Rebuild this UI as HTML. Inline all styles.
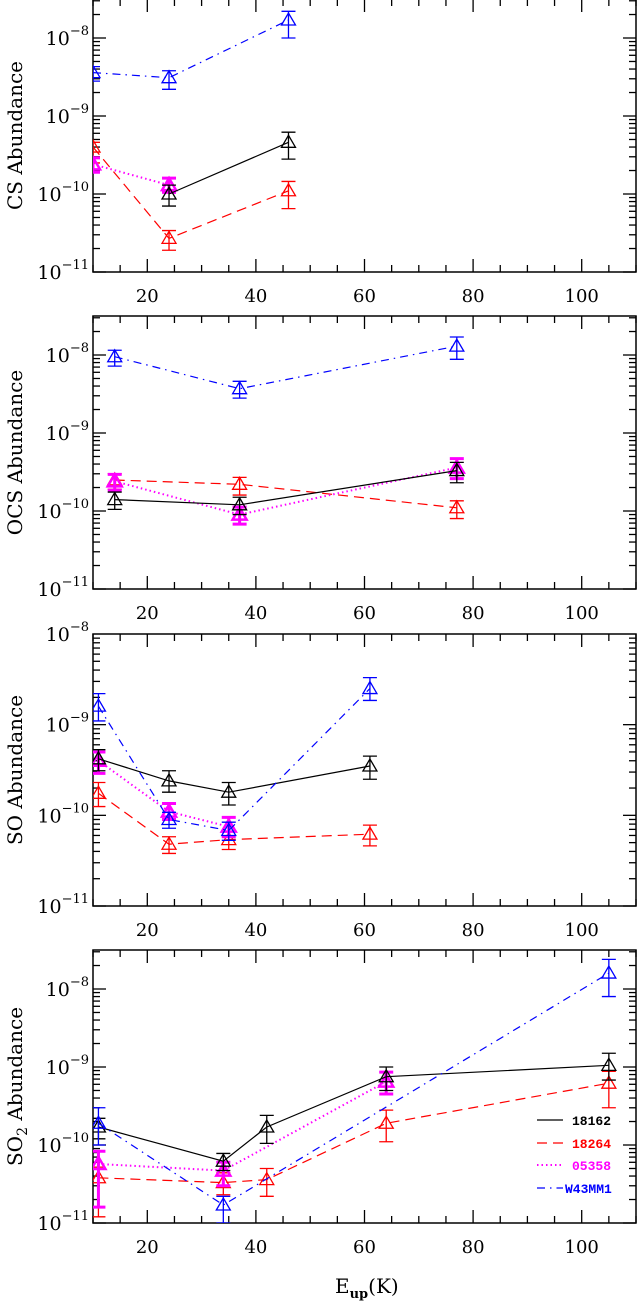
<!DOCTYPE html>
<html><head><meta charset="utf-8"><style>
html,body{margin:0;padding:0;background:#fff;}
svg{display:block;font-family:"DejaVu Serif","Liberation Serif",serif;}
</style></head><body>
<svg id="chart" width="638" height="1304" viewBox="0 0 638 1304" xmlns="http://www.w3.org/2000/svg"></svg>
<script>
// ---------- data ----------
const seriesNames = ["18162","18264","05358","W43MM1"];
const seriesColors = ["#000000","#ff0000","#ff00ff","#0000ff"];
const panelTitles = ["CS","OCS","SO","SO2"];
// CS
const csX = [[24,46],[10,24,46],[10,24],[10,24,46]];
const csV = [[1.0e-10,4.6e-10],[4.0e-10,2.7e-11,1.1e-10],[2.4e-10,1.3e-10],[3.6e-9,3.1e-9,1.7e-8]];
const csLo = [[7e-11,2.8e-10],[2.5e-10,1.9e-11,6.5e-11],[1.9e-10,1.05e-10],[2.8e-9,2.2e-9,1.0e-8]];
const csHi = [[1.3e-10,6.2e-10],[4.6e-10,3.4e-11,1.45e-10],[2.9e-10,1.6e-10],[4.3e-9,3.8e-9,2.2e-8]];
// OCS
const ocsX = [[14,37,77],[14,37,77],[14,37,77],[14,37,77]];
const ocsV = [[1.4e-10,1.2e-10,3.3e-10],[2.5e-10,2.2e-10,1.1e-10],[2.4e-10,0.9e-10,3.6e-10],[9.5e-9,3.7e-9,1.3e-8]];
const ocsLo = [[1.05e-10,0.9e-10,2.3e-10],[1.9e-10,1.6e-10,0.8e-10],[1.85e-10,0.68e-10,2.6e-10],[7.2e-9,2.8e-9,8.8e-9]];
const ocsHi = [[1.75e-10,1.5e-10,4.2e-10],[3.0e-10,2.7e-10,1.35e-10],[2.95e-10,1.12e-10,4.7e-10],[1.15e-8,4.6e-9,1.7e-8]];
// SO
const soX = [[11,24,35,61],[11,24,35,61],[11,24,35],[11,24,35,61]];
const soV = [[4.2e-10,2.4e-10,1.8e-10,3.5e-10],[1.75e-10,4.8e-11,5.4e-11,6.2e-11],[4.0e-10,1.1e-10,7.5e-11],[1.6e-9,9.0e-11,6.8e-11,2.5e-9]];
const soLo = [[3.1e-10,1.8e-10,1.3e-10,2.5e-10],[1.25e-10,3.8e-11,4.2e-11,4.6e-11],[2.9e-10,9.0e-11,5.8e-11],[1.1e-9,7.2e-11,5.3e-11,1.85e-9]];
const soHi = [[5.3e-10,3.1e-10,2.3e-10,4.5e-10],[2.3e-10,5.8e-11,6.6e-11,7.8e-11],[5.0e-10,1.35e-10,9.5e-11],[2.2e-9,1.08e-10,8.4e-11,3.3e-9]];
// SO2
const so2X = [[11,34,42,64,105],[11,34,42,64,105],[11,34,64],[11,34,105]];
const so2V = [[1.7e-10,6.2e-11,1.7e-10,7.5e-10,1.05e-9],[3.8e-11,3.3e-11,3.6e-11,1.9e-10,6.2e-10],[5.7e-11,4.7e-11,6.5e-10],[1.9e-10,1.7e-11,1.6e-8]];
const so2Lo = [[1.2e-10,4.7e-11,1.05e-10,5.0e-10,6.8e-10],[1.2e-11,2.3e-11,2.2e-11,1.1e-10,3.0e-10],[1.6e-11,3.0e-11,4.5e-10],[1.0e-10,1.0e-11,8.0e-9]];
const so2Hi = [[2.2e-10,7.8e-11,2.4e-10,1.0e-9,1.5e-9],[5.2e-11,4.4e-11,5.0e-11,2.8e-10,8.8e-10],[8.3e-11,6.0e-11,8.6e-10],[3.0e-10,2.2e-11,2.4e-8]];
const xTicks = [20,40,60,80,100];

const panelData = [[csX,csV,csLo,csHi],[ocsX,ocsV,ocsLo,ocsHi],[soX,soV,soLo,soHi],[so2X,so2V,so2Lo,so2Hi]];
const panelGeom = [
  {top:-1,bottom:272,lmin:-11,lmax:-7.5},
  {top:316,bottom:589,lmin:-11,lmax:-7.5},
  {top:634,bottom:906,lmin:-11,lmax:-8},
  {top:950,bottom:1223,lmin:-11,lmax:-7.5}
];
const XL=93, XR=636, XMIN=10, XMAX=110;
const dashes = ["", "10,6", "1.5,3", "8,5,1.5,5"];
const NS="http://www.w3.org/2000/svg";
const svg=document.getElementById('chart');
function mk(tag,attrs,parent){const e=document.createElementNS(NS,tag);for(const k in attrs)e.setAttribute(k,attrs[k]);(parent||svg).appendChild(e);return e;}
function xs(x){return XL+(x-XMIN)/(XMAX-XMIN)*(XR-XL);}

panelGeom.forEach((g,pi)=>{
  const ys=v=>g.bottom-(Math.log10(v)-g.lmin)/(g.lmax-g.lmin)*(g.bottom-g.top);
  const grp=mk('g',{});
  
  
  const box=mk('rect',{x:XL,y:g.top,width:XR-XL,height:g.bottom-g.top,fill:'none',stroke:'#000','stroke-width':1.5},grp);
  
  
  for(let x=10;x<=110;x+=5){
    const big=(x%20===0), L=big?13:7, px=xs(x);
    mk('line',{x1:px,x2:px,y1:g.bottom,y2:g.bottom-L,stroke:'#000','stroke-width':1.3},grp);
    mk('line',{x1:px,x2:px,y1:g.top,y2:g.top+L,stroke:'#000','stroke-width':1.3},grp);
  }
  xTicks.forEach(t=>{
    const tx=mk('text',{x:xs(t),y:g.bottom+30,'text-anchor':'middle','font-size':18},grp);
    tx.textContent=t;
    
    
  });
  for(let d=g.lmin; d<g.lmax; d++){
    for(let m=1;m<=9;m++){
      const v=m*Math.pow(10,d); const lv=Math.log10(v);
      if(lv>g.lmax+1e-9) break;
      const py=ys(v), L=(m===1)?13:7;
      mk('line',{x1:XL,x2:XL+L,y1:py,y2:py,stroke:'#000','stroke-width':1.3},grp);
      mk('line',{x1:XR,x2:XR-L,y1:py,y2:py,stroke:'#000','stroke-width':1.3},grp);
    }
  }
  for(let d=g.lmin; d<=g.lmax; d++){
    const py=ys(Math.pow(10,d));
    const t=mk('text',{x:89,y:py+7,'text-anchor':'end','font-size':19},grp);
    
    
    const a=mk('tspan',{},t); a.textContent='10';
    const b=mk('tspan',{dy:-10,'font-size':13},t); b.textContent='\u2212'+(-d);
  }
  const cy=(g.top+g.bottom)/2;
  const yt=mk('text',{x:0,y:0,transform:`translate(22,${cy}) rotate(-90)`,'text-anchor':'middle','font-size':20},grp);
  
  
  if(panelTitles[pi]==='SO2'){
    const s1=mk('tspan',{},yt);s1.textContent='SO';
    const s2=mk('tspan',{dy:5,'font-size':14},yt);s2.textContent='2';
    const s3=mk('tspan',{dy:-5},yt);s3.textContent=' Abundance';
  } else yt.textContent=panelTitles[pi]+' Abundance';
  const [X,V,LO,HI]=panelData[pi];
  const clipId='clip'+pi;
  const cp=mk('clipPath',{id:clipId},grp); mk('rect',{x:XL,y:g.top,width:XR-XL,height:g.bottom-g.top},cp);
  [1,2,0,3].forEach(si=>{
    const col=seriesColors[si]; const thick=si===2;
    const sg=mk('g',{'clip-path':`url(#${clipId})`},grp);
    
    
    const pts=X[si].map((x,i)=>xs(x).toFixed(1)+','+ys(V[si][i]).toFixed(1)).join(' ');
    const pl=mk('polyline',{points:pts,fill:'none',stroke:col,'stroke-width':thick?2:1.2,'stroke-dasharray':dashes[si]},sg);
    
    
    X[si].forEach((x,i)=>{
      const px=xs(x), py=ys(V[si][i]), ylo=ys(LO[si][i]), yhi=ys(HI[si][i]);
      const sw=thick?3:1.3;
      const eb=mk('path',{d:`M${px-7},${yhi}H${px+7}M${px},${yhi}V${ylo}M${px-7},${ylo}H${px+7}`,stroke:col,'stroke-width':sw,fill:'none'},sg);
      
      
      const tr=mk('path',{d:`M${px-7},${py+5}L${px+7},${py+5}L${px},${py-7}Z`,stroke:col,'stroke-width':thick?2.5:1.3,fill:'none'},sg);
      
      
    });
  });
});
const lg=mk('g',{});


const legY=[1120,1143,1165,1188];
seriesNames.forEach((n,i)=>{
  const e=mk('g',{},lg);
  
  
  mk('line',{x1:537,x2:563,y1:legY[i],y2:legY[i],stroke:seriesColors[i],'stroke-width':i===2?2:1.3,'stroke-dasharray':dashes[i]},e);
  const t=mk('text',{x:i===3?565:572,y:legY[i]+5,fill:seriesColors[i],'font-size':13,'font-family':'Liberation Mono, monospace','font-weight':'bold'},e);
  t.textContent=n;
});
const xt=mk('text',{x:335,y:1293,'font-size':20});


const e1=mk('tspan',{},xt);e1.textContent='E';
const e2=mk('tspan',{dy:5,'font-size':13,'font-weight':'bold'},xt);e2.textContent='up';
const e3=mk('tspan',{dy:-5},xt);e3.textContent='(K)';
</script>
</body></html>
